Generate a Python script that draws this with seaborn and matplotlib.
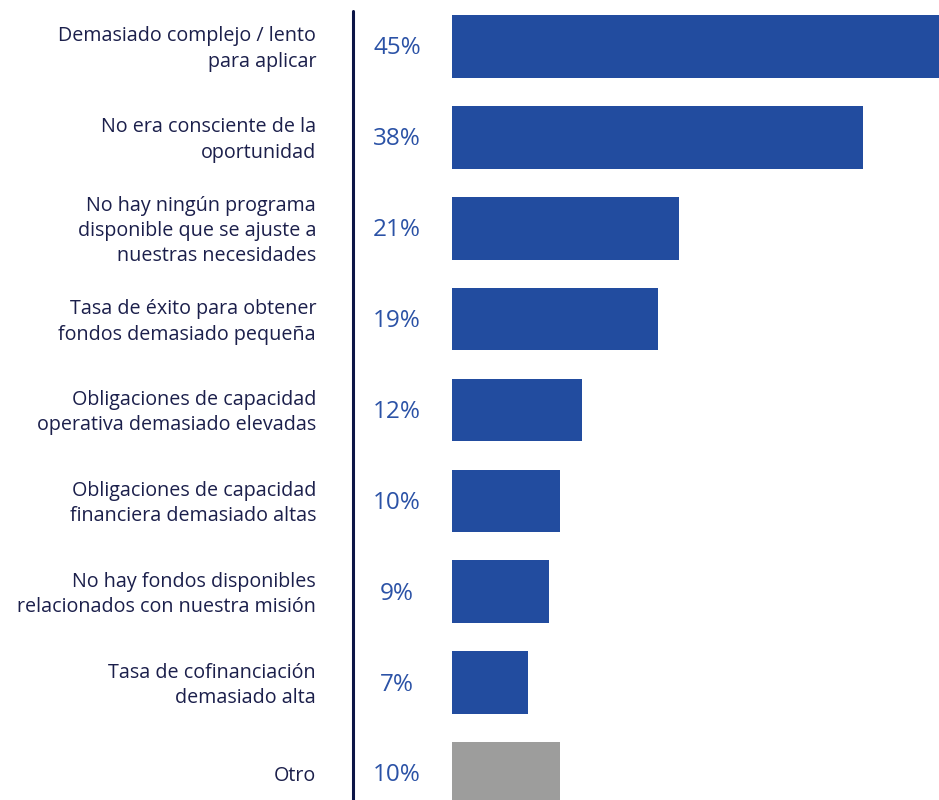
import matplotlib
matplotlib.use("Agg")
import matplotlib.pyplot as plt
import matplotlib.transforms as mtransforms
from matplotlib.lines import Line2D
import seaborn as sns
import pandas as pd

categories = [
    "Demasiado complejo / lento\npara aplicar",
    "No era consciente de la\noportunidad",
    "No hay ningún programa\ndisponible que se ajuste a\nnuestras necesidades",
    "Tasa de éxito para obtener\nfondos demasiado pequeña",
    "Obligaciones de capacidad\noperativa demasiado elevadas",
    "Obligaciones de capacidad\nfinanciera demasiado altas",
    "No hay fondos disponibles\nrelacionados con nuestra misión",
    "Tasa de cofinanciación\ndemasiado alta",
    "Otro",
]
values = [45, 38, 21, 19, 12, 10, 9, 7, 10]
bar_colors = ["#224c9f"] * 8 + ["#9d9d9c"]

W, H = 939, 800
sns.set_theme(style="white")
plt.rcParams["font.family"] = ["Open Sans", "DejaVu Sans"]

df = pd.DataFrame({"cat": categories, "val": values})

fig = plt.figure(figsize=(W / 100, H / 100), dpi=100)
ax = fig.add_axes([452 / W, 0, 1 - 452 / W, 1])

sns.barplot(data=df, x="val", y="cat", hue="cat", palette=bar_colors,
            legend=False, width=0.69, saturation=1, linewidth=0,
            ax=ax, orient="h")

ax.set_xlim(0, 45)
ax.set_ylim(8.29, -0.51)
ax.axis("off")

trans = mtransforms.blended_transform_factory(fig.transFigure, ax.transData)
for i, (cat, v) in enumerate(zip(categories, values)):
    ax.text(316 / W, i + 0.03, cat, transform=trans, ha="right", va="center",
            fontsize=14.2, color="#1b1f4b", linespacing=1.36, clip_on=False)
    ax.text(397 / W, i + 0.02, f"{v}%", transform=trans, ha="center",
            va="center", fontsize=17.5, color="#2b52a6", clip_on=False)

fig.add_artist(Line2D([353 / W, 353 / W], [1 - 11 / H, 0],
                      transform=fig.transFigure, color="#0b1446", linewidth=2.2))

fig.savefig("out.png", dpi=100)
